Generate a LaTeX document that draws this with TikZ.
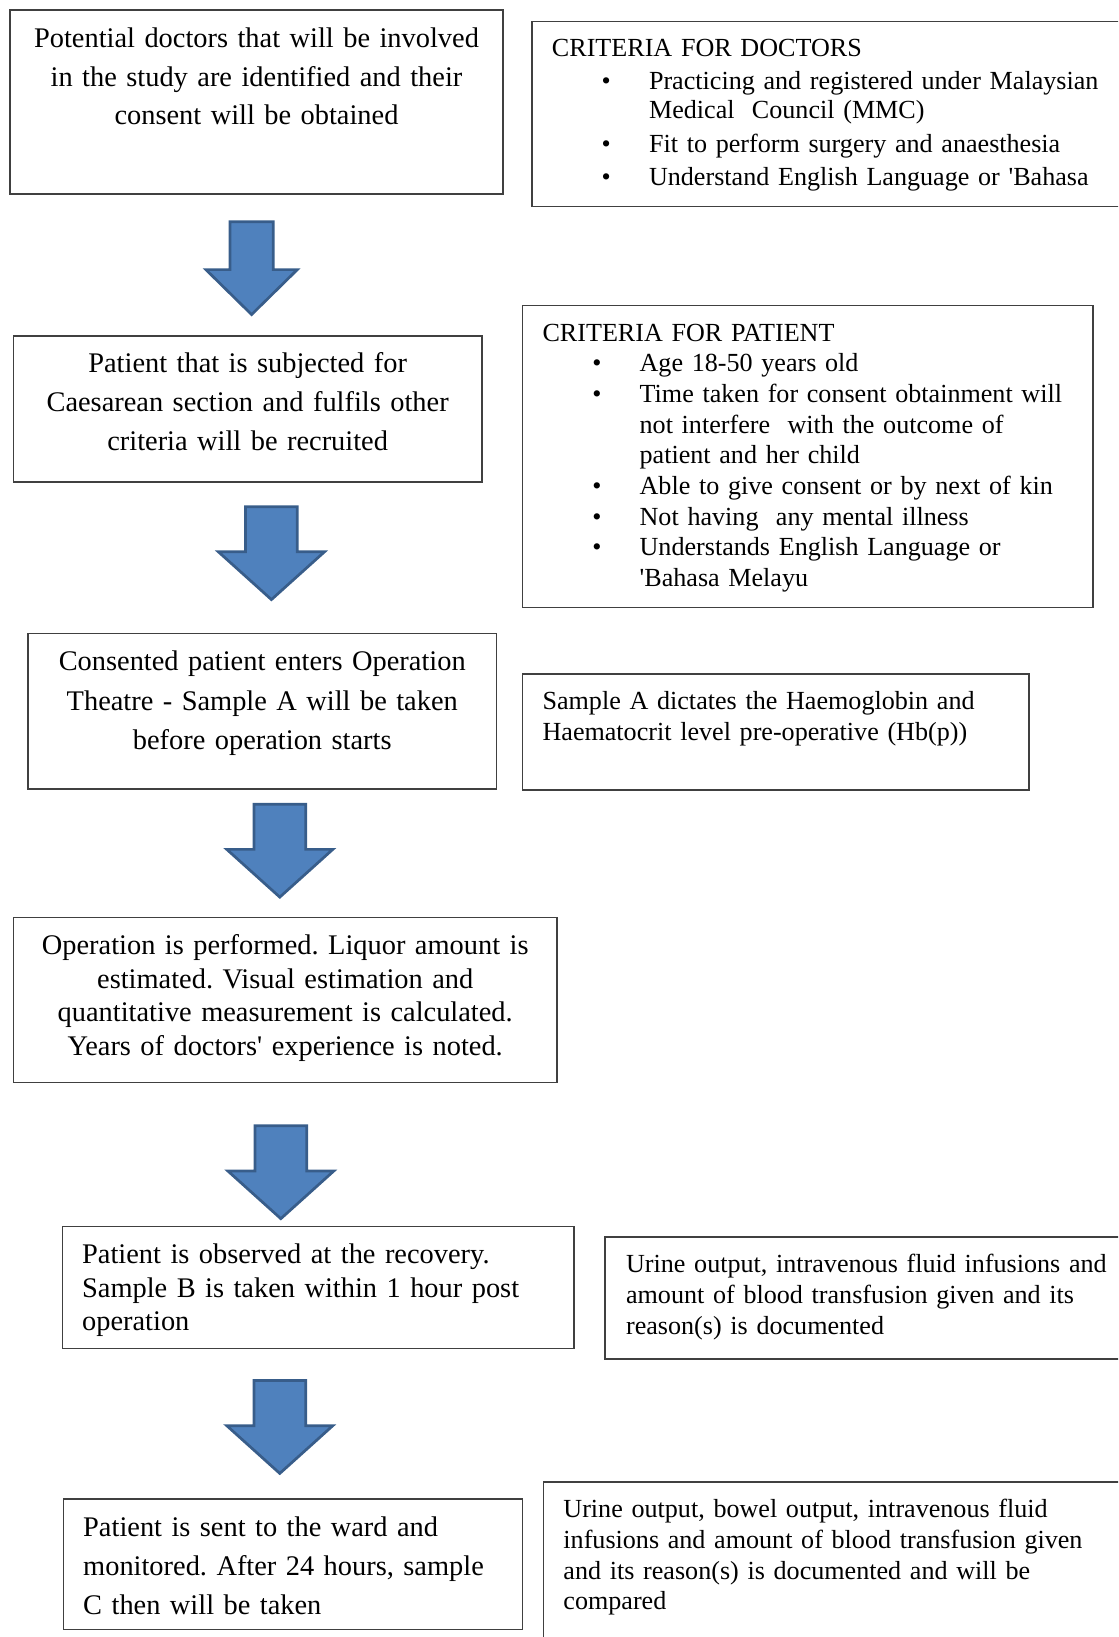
\documentclass[tikz,border=0pt]{standalone}
\usepackage{fontspec}
\setmainfont{Liberation Serif}
\usetikzlibrary{shapes.arrows}
\definecolor{arrowfill}{HTML}{4F81BD}
\definecolor{arrowedge}{HTML}{385D8A}
\frenchspacing
\newlength\itemgap
\newcommand\critem[1]{\par\vskip\itemgap\leftskip=46.5pt\noindent
  \llap{\textbullet\hspace{18.3pt}}#1\par}

\begin{document}
\begin{tikzpicture}[x=0.5pt,y=-0.5pt]
  \tikzstyle{flow}=[draw=black!75,line width=0.7pt,anchor=north west,
                    inner ysep=0pt,inner xsep=9.5pt,
                    font=\fontsize{13.6}{18.75}\selectfont]
  \tikzstyle{side}=[flow,align=left,font=\fontsize{12.5}{14.7}\selectfont]
  \tikzstyle{down}=[single arrow,shape border rotate=270,anchor=tail,
                    draw=arrowedge,fill=arrowfill,line width=1.3pt,
                    inner sep=11.75pt,minimum height=44.5pt,minimum width=49.5pt,
                    single arrow head extend=13pt,single arrow tip angle=96]
  \clip (0,0) rectangle (1071,1568);

  % main flow
  \node [flow,align=center,text width=217pt,text height=18pt,text depth=70pt,
         font=\fontsize{13.6}{18.5}\selectfont] (doctors) at (9,9)
    {Potential doctors that will be involved\\in the study are identified and their\\consent will be obtained};
  \node [flow,align=center,text width=205.5pt,text height=17.5pt,text depth=52.5pt] (recruit) at (12,321)
    {Patient that is subjected for\\Caesarean section and fulfils other\\criteria will be recruited};
  \node [flow,align=center,text width=205.5pt,text height=18pt,text depth=56.5pt] (theatre) at (26,606)
    {Consented patient enters Operation\\Theatre - Sample A will be taken\\before operation starts};
  \node [flow,align=center,text width=241.5pt,text height=18pt,text depth=61pt,
         font=\fontsize{13.6}{16}\selectfont] (operation) at (12,878)
    {Operation is performed. Liquor amount is\\estimated. Visual estimation and\\quantitative measurement is calculated.\\Years of doctors\textquotesingle{} experience is noted.};
  \node [flow,align=left,text width=226pt,text height=18pt,text depth=40.5pt,
         font=\fontsize{13.6}{16}\selectfont] (recovery) at (59,1174)
    {Patient is observed at the recovery.\\Sample B is taken within 1 hour post\\operation};
  \node [flow,align=left,text width=201pt,text height=18pt,text depth=44.5pt] (ward) at (60,1435)
    {Patient is sent to the ward and\\monitored. After 24 hours, sample\\C then will be taken};

  % block arrows
  \node [down,inner sep=9.75pt,minimum width=42.5pt,single arrow head extend=11.5pt,
         single arrow tip angle=91] (arr1) at (241,211) {};
  \node [down] (arr2) at (260,484) {};
  \node [down] (arr3) at (268,769) {};
  \node [down] (arr4) at (269,1077) {};
  \node [down] (arr5) at (268,1321) {};

  % side boxes
  \node [side,text width=300pt,text height=16.5pt,text depth=72pt,
         font=\fontsize{12.5}{14}\selectfont] (critdoc) at (509,20)
    {\setlength{\itemgap}{2pt}CRITERIA FOR DOCTORS
     \critem{Practicing and registered under Malaysian\\Medical\ \ Council (MMC)}
     \critem{Fit to perform surgery and anaesthesia}
     \critem{Understand English Language or \textquotesingle Bahasa}};
  \node [side,text width=254pt,text height=17pt,text depth=127.5pt] (critpat) at (500,292)
    {CRITERIA FOR PATIENT
     \critem{Age 18-50 years old}
     \critem{Time taken for consent obtainment will\\not interfere\ \ with the outcome of\\patient and her child}
     \critem{Able to give consent or by next of kin}
     \critem{Not having\ \ any mental illness}
     \critem{Understands English Language or\\\textquotesingle Bahasa Melayu}};
  \node [side,text width=223.5pt,text height=17pt,text depth=38.5pt,
         font=\fontsize{12.5}{15}\selectfont] (sampleA) at (500,645)
    {Sample A dictates the Haemoglobin and\\Haematocrit level pre-operative (Hb(p))};
  \node [side,inner xsep=10pt,text width=260pt,text height=17pt,text depth=41.5pt,
         font=\fontsize{12.5}{15}\selectfont] (urine1) at (579,1184)
    {Urine output, intravenous fluid infusions and\\amount of blood transfusion given and its\\reason(s) is documented};
  \node [side,text width=280pt,text height=17pt,text depth=100pt] (urine2) at (520,1419)
    {Urine output, bowel output, intravenous fluid\\infusions and amount of blood transfusion given\\and its reason(s) is documented and will be\\compared};
\end{tikzpicture}
\end{document}
